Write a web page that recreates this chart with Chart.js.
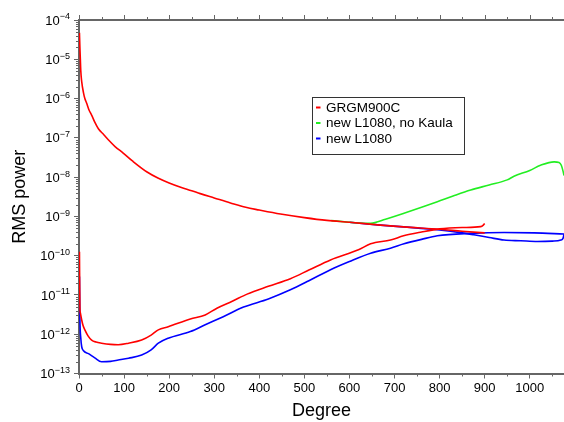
<!DOCTYPE html>
<html>
<head>
<meta charset="utf-8">
<script src="https://cdn.jsdelivr.net/npm/chart.js@4/dist/chart.umd.min.js"></script>
<style>
  body { margin: 0; background: #fff; }
  canvas { display: block; }
</style>
</head>
<body>
<canvas id="rms_chart" width="564" height="422"></canvas>
<script>
// GRGM900C signal
const grgmDeg   = [1, 2, 3, 4, 6, 10, 13, 17, 22, 28, 35, 43, 55, 65, 80, 98, 120, 151, 175, 200, 224, 250, 269, 300, 336, 370, 400, 447, 500, 550, 600, 669, 720, 800, 850, 900];
const grgmPower = [4.7e-5, 2.0e-5, 1.0e-5, 5.0e-6, 2.7e-6, 1.4e-6, 1.0e-6, 7.6e-7, 5.2e-7, 3.8e-7, 2.5e-7, 1.7e-7, 1.2e-7, 8.9e-8, 6.0e-8, 4.1e-8, 2.5e-8, 1.35e-8, 9.5e-9, 7.1e-9, 5.6e-9, 4.5e-9, 3.8e-9, 2.95e-9, 2.2e-9, 1.7e-9, 1.45e-9, 1.15e-9, 9.3e-10, 7.9e-10, 7.1e-10, 6.0e-10, 5.4e-10, 4.7e-10, 4.2e-10, 3.8e-10];
// GRGM900C error
const grgmErrDeg = [1, 2, 3, 6, 9, 13, 20, 28, 38, 50, 70, 87, 110, 139, 160, 176, 198, 247, 280, 306, 340, 373, 420, 469, 510, 558, 620, 647, 691, 720, 760, 800, 850, 891, 897, 900];
const grgmErr    = [1.25e-10, 5.0e-12, 3.5e-12, 2.3e-12, 1.66e-12, 1.29e-12, 9.1e-13, 7.1e-13, 6.3e-13, 5.9e-13, 5.5e-13, 5.4e-13, 5.9e-13, 7.1e-13, 9.5e-13, 1.29e-12, 1.55e-12, 2.45e-12, 3.1e-12, 4.6e-12, 6.9e-12, 1.05e-11, 1.66e-11, 2.6e-11, 4.3e-11, 7.8e-11, 1.41e-10, 2.0e-10, 2.5e-10, 3.2e-10, 4.0e-10, 4.8e-10, 5.2e-10, 5.5e-10, 6.0e-10, 6.6e-10];
// new L1080, no Kaula signal
const noKaulaDeg   = [560, 600, 620, 647, 680, 721, 760, 795, 830, 869, 910, 950, 965, 1000, 1024, 1054, 1065, 1070, 1074, 1076];
const noKaulaPower = [7.8e-10, 7.1e-10, 6.8e-10, 6.7e-10, 8.5e-10, 1.2e-9, 1.7e-9, 2.35e-9, 3.3e-9, 4.7e-9, 6.3e-9, 8.5e-9, 1.05e-8, 1.48e-8, 2.0e-8, 2.45e-8, 2.35e-8, 2.0e-8, 1.4e-8, 1.1e-8];
// new L1080 signal
const l1080Deg   = [600, 669, 720, 800, 850, 876, 910, 943, 980, 1017, 1050, 1069, 1074, 1076];
const l1080Power = [7.1e-10, 6.0e-10, 5.4e-10, 4.5e-10, 3.8e-10, 3.4e-10, 2.9e-10, 2.5e-10, 2.4e-10, 2.3e-10, 2.35e-10, 2.5e-10, 2.8e-10, 3.5e-10];
// new L1080 error
const l1080ErrDeg = [1, 2, 4, 6, 10, 21, 35, 50, 70, 87, 110, 139, 160, 176, 198, 247, 280, 320, 365, 420, 469, 510, 558, 600, 647, 691, 721, 760, 795, 869, 943, 1010, 1076];
const l1080Err    = [2.95e-11, 2.5e-12, 7.9e-13, 4.8e-13, 3.8e-13, 3.2e-13, 2.5e-13, 2.0e-13, 2.04e-13, 2.2e-13, 2.45e-13, 2.95e-13, 4.0e-13, 5.9e-13, 7.9e-13, 1.17e-12, 1.74e-12, 2.8e-12, 4.9e-12, 7.9e-12, 1.35e-11, 2.3e-11, 4.4e-11, 7.1e-11, 1.15e-10, 1.55e-10, 2.0e-10, 2.6e-10, 3.2e-10, 3.7e-10, 3.9e-10, 3.8e-10, 3.55e-10];

const xTicks = [0, 100, 200, 300, 400, 500, 600, 700, 800, 900, 1000];
const yExps = [-4, -5, -6, -7, -8, -9, -10, -11, -12, -13];
const legendItems = [
  { label: 'GRGM900C', color: '#ff0000' },
  { label: 'new L1080, no Kaula', color: '#22ee22' },
  { label: 'new L1080', color: '#0000ff' }
];

function pts(xs, ys) {
  return xs.map((d, i) => ({ x: d, y: ys[i] }));
}

const FONT = "'Liberation Sans', Arial, Helvetica, sans-serif";
const AXIS = '#666';

function ds(data, color) {
  return { data: data, borderColor: color, borderWidth: 1.6, pointRadius: 0, cubicInterpolationMode: 'monotone', fill: false };
}

const axisDeco = {
  id: 'axisDeco',
  afterDraw(chart) {
    const ctx = chart.ctx;
    const a = chart.chartArea;
    const x = chart.scales.x, y = chart.scales.y;
    ctx.save();
    ctx.strokeStyle = AXIS;
    // top frame line
    ctx.beginPath();
    ctx.lineWidth = 2;
    ctx.moveTo(a.left - 1, a.top);
    ctx.lineTo(a.right, a.top);
    ctx.stroke();
    ctx.lineWidth = 1;
    ctx.beginPath();
    // top ticks + bottom minor ticks
    for (let d = 0; d <= 1076; d += 50) {
      const px = Math.round(x.getPixelForValue(d)) + 0.5;
      const len = d % 100 === 0 ? 5 : 3;
      ctx.moveTo(px, a.top);
      ctx.lineTo(px, a.top - len);
      if (d % 100 !== 0) {
        ctx.moveTo(px, a.bottom);
        ctx.lineTo(px, a.bottom + 3);
      }
    }
    // left minor ticks
    for (let n = -13; n < -4; n++) {
      for (let k = 2; k <= 9; k++) {
        const py = Math.round(y.getPixelForValue(k * Math.pow(10, n))) + 0.5;
        ctx.moveTo(a.left, py);
        ctx.lineTo(a.left - 3, py);
      }
    }
    ctx.stroke();

    // y labels 10^n
    ctx.fillStyle = '#000';
    ctx.textBaseline = 'middle';
    yExps.forEach(n => {
      const py = y.getPixelForValue(Math.pow(10, n));
      const ex = '\u2212' + Math.abs(n);
      ctx.font = '9px ' + FONT;
      const ew = ctx.measureText(ex).width;
      const xEnd = a.left - 9;
      ctx.textAlign = 'left';
      ctx.fillText(ex, xEnd - ew, py - 3);
      ctx.font = '13px ' + FONT;
      ctx.textAlign = 'right';
      ctx.fillText('10', xEnd - ew, py + 1);
    });

    // legend
    const bx = 312.5, by = 97.5, bw = 152, bh = 57;
    ctx.fillStyle = '#fff';
    ctx.fillRect(bx, by, bw, bh);
    ctx.strokeStyle = '#333';
    ctx.lineWidth = 1;
    ctx.strokeRect(bx, by, bw, bh);
    ctx.font = '13.5px ' + FONT;
    ctx.textAlign = 'left';
    ctx.textBaseline = 'middle';
    legendItems.forEach((it, i) => {
      const ly = 107.5 + i * 15.5;
      ctx.strokeStyle = it.color;
      ctx.lineWidth = 2;
      ctx.beginPath();
      ctx.moveTo(316, ly);
      ctx.lineTo(320.5, ly);
      ctx.stroke();
      ctx.fillStyle = '#000';
      ctx.fillText(it.label, 326, ly + 0.5);
    });
    ctx.restore();
  }
};

const ctxr = document.getElementById('rms_chart').getContext('2d');
const chartr = new Chart(ctxr, {
  type: 'line',
  data: {
    datasets: [
      ds(pts(grgmDeg, grgmPower), '#ff0000'),
      ds(pts(grgmErrDeg, grgmErr), '#ff0000'),
      ds(pts(noKaulaDeg, noKaulaPower), '#22ee22'),
      ds(pts(l1080Deg, l1080Power), '#0000ff'),
      ds(pts(l1080ErrDeg, l1080Err), '#0000ff')
    ]
  },
  options: {
    responsive: false,
    animation: false,
    devicePixelRatio: 1,
    layout: { padding: { top: 20, right: 0, bottom: 0, left: 0 } },
    plugins: { legend: { display: false }, tooltip: { enabled: false } },
    scales: {
      x: {
        type: 'linear',
        min: 0,
        max: 1076,
        afterBuildTicks: s => { s.ticks = xTicks.map(v => ({ value: v })); },
        afterFit: s => { s.height = 48.5; },
        grid: { drawOnChartArea: false, drawTicks: true, tickLength: 5, color: AXIS, tickColor: AXIS },
        border: { display: true, color: AXIS, width: 2 },
        ticks: { callback: v => String(v), font: { family: FONT, size: 13 }, color: '#000', padding: 2, maxRotation: 0, autoSkip: false },
        title: { display: true, text: 'Degree', color: '#000', font: { family: FONT, size: 18 }, padding: { top: 0, bottom: 0 } }
      },
      y: {
        type: 'logarithmic',
        min: 1e-13,
        max: 1e-4,
        afterBuildTicks: s => { s.ticks = yExps.map(n => ({ value: Math.pow(10, n) })); },
        afterFit: s => { s.width = 79; },
        grid: { drawOnChartArea: false, drawTicks: true, tickLength: 5, color: AXIS, tickColor: AXIS },
        border: { display: true, color: AXIS, width: 2 },
        ticks: { callback: () => '', font: { family: FONT, size: 13 } },
        title: { display: true, text: 'RMS power', color: '#000', font: { family: FONT, size: 18 }, padding: { top: 9, bottom: 0 } }
      }
    }
  },
  plugins: [axisDeco]
});
</script>
</body>
</html>
